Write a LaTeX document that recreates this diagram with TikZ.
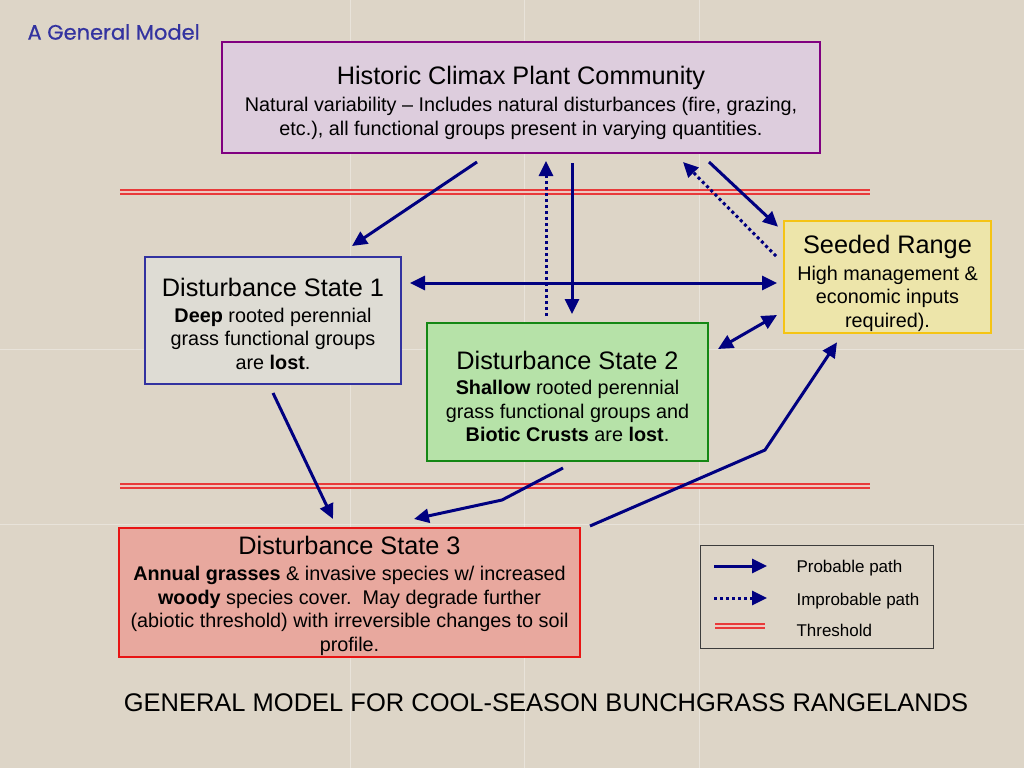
\documentclass[tikz,border=0pt]{standalone}
\usepackage{fontspec}
\setmainfont{Liberation Sans}
\newfontfamily\headfont[FakeBold=0.6]{Poppins}
\usepackage{xcolor}
\usetikzlibrary{arrows.meta}

\definecolor{bgbeige}{RGB}{221,213,199}
\definecolor{navypath}{RGB}{0,0,128}
\definecolor{threshred}{RGB}{232,58,58}
\definecolor{threshgap}{RGB}{238,200,192}
\definecolor{histfill}{RGB}{221,205,221}
\definecolor{histline}{RGB}{128,0,128}
\definecolor{dsonefill}{RGB}{222,220,212}
\definecolor{dsoneline}{RGB}{50,50,160}
\definecolor{dstwofill}{RGB}{182,226,168}
\definecolor{dstwoline}{RGB}{20,135,20}
\definecolor{seedfill}{RGB}{237,229,170}
\definecolor{seedline}{RGB}{245,196,20}
\definecolor{dsthreefill}{RGB}{232,168,158}
\definecolor{dsthreeline}{RGB}{232,20,20}
\definecolor{headblue}{RGB}{51,51,160}

\newcommand{\bodyfont}{\fontsize{19.8}{23.5}\selectfont\lineskiplimit=-5pt}
% optional arg: height of the title strut (pushes the text block down)
\newcommand{\boxtitle}[2][23]{{\fontsize{25.3}{27}\selectfont\rule{0pt}{#1pt}#2}}

\begin{document}
\begin{tikzpicture}[x=1pt, y=-1pt,
    statebox/.style={draw, line width=2pt, align=center, inner sep=2pt,
      outer sep=0pt, font=\bodyfont},
    probable/.style={draw=navypath, line width=3pt,
      -{Triangle[length=15pt,width=14pt]}},
    improbable/.style={probable, dash pattern=on 3pt off 3pt},
    both/.style={probable, {Triangle[length=15pt,width=14pt]}-{Triangle[length=15pt,width=14pt]}},
    threshold/.style={draw=threshred, line width=1.8pt, double=threshgap,
      double distance=1.6pt}]

  % background
  \fill[bgbeige] (0,0) rectangle (1024,768);
  \useasboundingbox (0,0) rectangle (1024,768);
  \foreach \g in {350,524,699}
    \draw[white, opacity=0.35, line width=0.8pt] (\g,0) -- (\g,768);
  \foreach \g in {349,524}
    \draw[white, opacity=0.35, line width=0.8pt] (0,\g) -- (1024,\g);

  \node[anchor=west, text=headblue, font=\headfont\fontsize{21}{23}\selectfont]
      (head) at (24,32) {A General Model};

  % thresholds
  \coordinate (thA) at (120,192);
  \coordinate (thB) at (870,192);
  \coordinate (thC) at (120,486);
  \coordinate (thD) at (870,486);
  \draw[threshold] (thA) -- (thB);
  \draw[threshold] (thC) -- (thD);

  % states
  \node[statebox, fill=histfill, draw=histline, minimum width=598pt,
        minimum height=111pt]
      (hist) at (521,97.5)
      {\boxtitle[29]{Historic Climax Plant Community}\\[4pt]
       Natural variability -- Includes natural disturbances (fire, grazing,\\
       etc.), all functional groups present in varying quantities.};
  \node[statebox, fill=dsonefill, draw=dsoneline, minimum width=256pt,
        minimum height=127pt]
      (ds1) at (273,320.5)
      {\boxtitle[25]{Disturbance State 1}\\[2pt]
       \textbf{Deep} rooted perennial\\
       grass functional groups\\
       are \textbf{lost}.};
  \node[statebox, fill=dstwofill, draw=dstwoline, minimum width=281pt,
        minimum height=138pt]
      (ds2) at (567.5,392)
      {\boxtitle[27]{Disturbance State 2}\\[2pt]
       \textbf{Shallow} rooted perennial\\
       grass functional groups and\\
       \textbf{Biotic Crusts} are \textbf{lost}.};
  \node[statebox, fill=seedfill, draw=seedline, minimum width=207pt,
        minimum height=112pt]
      (seed) at (887.5,277)
      {\boxtitle[31]{Seeded Range}\\[3pt]
       High management \&\\
       economic inputs\\
       required).};
  \node[statebox, inner sep=0pt, fill=dsthreefill, draw=dsthreeline,
        minimum width=461pt, minimum height=129pt]
      (ds3) at (349.5,592.5)
      {\boxtitle[25]{Disturbance State 3}\\[3pt]
       \textbf{Annual grasses} \& invasive species w/ increased\\
       \textbf{woody} species cover.\ \ May degrade further\\
       (abiotic threshold) with irreversible changes to soil\\
       profile.};

  % paths
  \draw[probable]   ([xshift=-44pt,yshift=-9pt]hist.south) -- ([xshift=79pt,yshift=11pt]ds1.north);
  \draw[improbable] ([xshift=-21.5pt,yshift=7pt]ds2.north) -- ([xshift=25pt,yshift=-8pt]hist.south);
  \draw[probable]   ([xshift=51pt,yshift=-10pt]hist.south) -- ([xshift=4.5pt,yshift=9pt]ds2.north);
  \draw[improbable] ([xshift=-8pt,yshift=21pt]seed.west) -- ([xshift=-137pt,yshift=-9pt]hist.south east);
  \draw[probable]   ([xshift=-111pt,yshift=-9pt]hist.south east) -- ([xshift=-6pt,yshift=-6pt]seed.north west);
  \draw[both]       ([xshift=9pt,yshift=37.5pt]ds1.east) -- ([xshift=-7pt,yshift=-6pt]seed.west);
  \draw[both]       ([xshift=10pt,yshift=43pt]ds2.east) -- ([xshift=-7pt,yshift=-38pt]seed.west);
  \draw[probable]   ([yshift=-9pt]ds1.south) -- ([xshift=-16.5pt,yshift=9pt]ds3.north);
  \coordinate (kneeA) at (502,500);
  \draw[probable, line join=round] ([xshift=-4.5pt,yshift=-7pt]ds2.south) -- (kneeA)
      -- ([xshift=64.5pt,yshift=9pt]ds3.north);
  \coordinate (kneeB) at (765,450);
  \draw[probable, line join=round] ([xshift=10pt,yshift=2pt]ds3.north east) -- (kneeB)
      -- ([xshift=-50.5pt,yshift=-9pt]seed.south);

  % legend
  \node[draw={rgb,255:red,60;green,60;blue,60}, line width=1pt,
        minimum width=233pt, minimum height=103pt] (legend) at (816.5,596.5) {};
  \coordinate (lgA) at (714,566);
  \coordinate (lgB) at (767,566);
  \coordinate (lgC) at (714,598);
  \coordinate (lgD) at (767,598);
  \coordinate (lgE) at (715,626);
  \coordinate (lgF) at (765,626);
  \draw[probable]   (lgA) -- (lgB);
  \draw[improbable] (lgC) -- (lgD);
  \draw[threshold] (lgE) -- (lgF);
  \node[anchor=west, font=\fontsize{17}{19}\selectfont] (lgprob)   at (793,568) {Probable path};
  \node[anchor=west, font=\fontsize{17}{19}\selectfont] (lgimprob) at (793,601) {Improbable path};
  \node[anchor=west, font=\fontsize{17}{19}\selectfont] (lgthresh) at (793,630) {Threshold};

  \node[font=\fontsize{25.5}{28}\selectfont] (caption) at (546,703)
      {GENERAL MODEL FOR COOL-SEASON BUNCHGRASS RANGELANDS};
\end{tikzpicture}
\end{document}
